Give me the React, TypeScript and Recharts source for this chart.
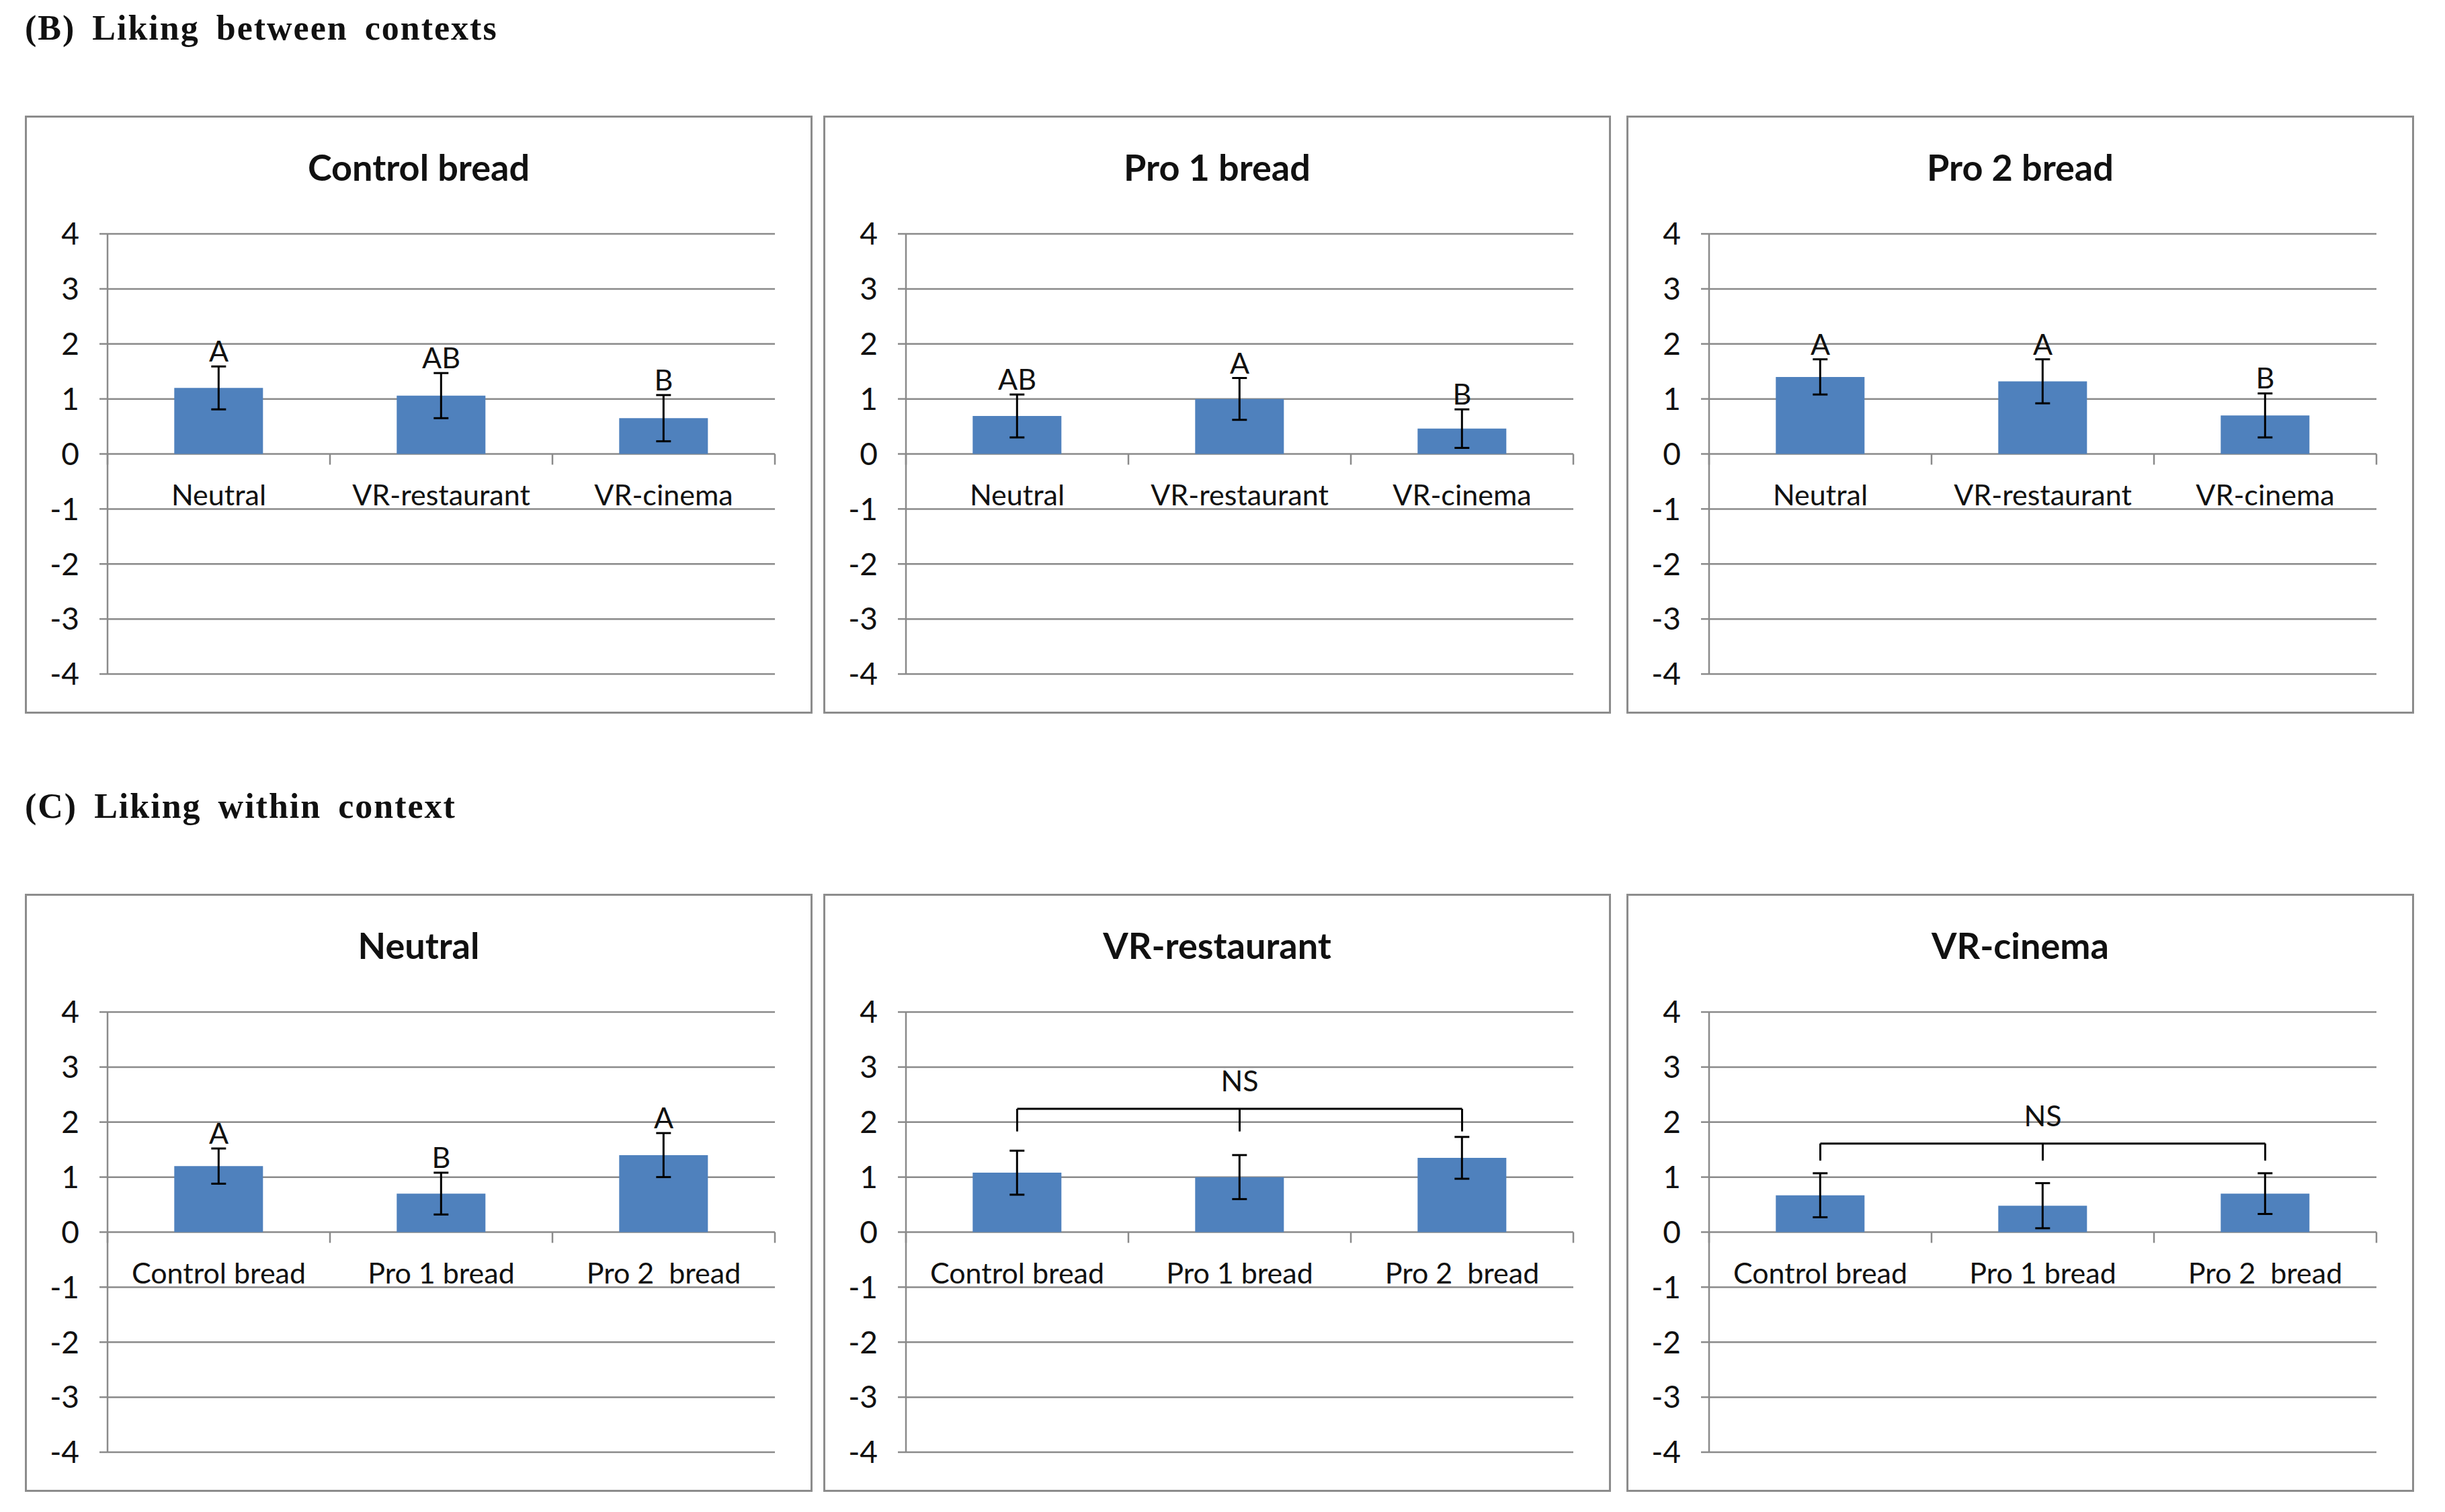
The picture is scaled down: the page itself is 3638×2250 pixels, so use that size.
import {
  ComposedChart,
  Bar,
  Line,
  ErrorBar,
  XAxis,
  YAxis,
  CartesianGrid,
  LabelList,
  ReferenceLine,
  ReferenceDot,
} from "recharts"

// categories
const CONTEXTS = ["Neutral", "VR-restaurant", "VR-cinema"]
const BREADS = ["Control bread", "Pro 1 bread", "Pro 2  bread"]
const Y_TICKS = [-4, -3, -2, -1, 0, 1, 2, 3, 4]

// (B) liking between contexts, per bread
const CONTROL_MEAN = [1.2, 1.06, 0.65]
const CONTROL_ERR = [0.39, 0.41, 0.42]
const CONTROL_LETTERS = ["A", "AB", "B"]

const PRO1_MEAN = [0.69, 1.0, 0.46]
const PRO1_ERR = [0.39, 0.38, 0.35]
const PRO1_LETTERS = ["AB", "A", "B"]

const PRO2_MEAN = [1.4, 1.32, 0.7]
const PRO2_ERR = [0.32, 0.4, 0.4]
const PRO2_LETTERS = ["A", "A", "B"]

// (C) liking within context, per context
const NEUTRAL_MEAN = [1.2, 0.7, 1.4]
const NEUTRAL_ERR = [0.32, 0.38, 0.4]
const NEUTRAL_LETTERS = ["A", "B", "A"]

const RESTAURANT_MEAN = [1.08, 1.0, 1.35]
const RESTAURANT_ERR = [0.4, 0.4, 0.38]

const CINEMA_MEAN = [0.67, 0.48, 0.7]
const CINEMA_ERR = [0.4, 0.41, 0.37]

// NS brackets: [bar y, leg end y, label y]
const RESTAURANT_BRACKET = [2.24, 1.83, 2.74]
const CINEMA_BRACKET = [1.61, 1.3, 2.11]

const BAR_COLOR = "#4f81bd"
const GRID = "#8a8a8a"
const FONT = "Lato, 'Open Sans', sans-serif"

const PANEL_W = 1172
const PANEL_H = 890
const BORDER = 3
const CHART_W = PANEL_W - 2 * BORDER
const CHART_H = PANEL_H - 2 * BORDER
const M_TOP = 173
const M_RIGHT = 53
const Y_AXIS_W = 120
const X_AXIS_H = 1
const PLOT_H = 655
const M_BOTTOM = CHART_H - M_TOP - PLOT_H - X_AXIS_H
const PLOT_W = CHART_W - Y_AXIS_W - M_RIGHT
const Y_ZERO = M_TOP + PLOT_H / 2

const buildRows = (cats: string[], mean: number[], err: number[], letters?: string[]) =>
  cats.map((c, i) => ({
    name: c,
    mean: mean[i],
    err: err[i],
    top: mean[i] + err[i],
    letter: letters ? letters[i] : "",
  }))

function CategoryTick(props: any) {
  const { x, payload, index } = props
  const catW = PLOT_W / 3
  return (
    <g>
      <line x1={x - catW / 2} y1={Y_ZERO} x2={x - catW / 2} y2={Y_ZERO + 16} stroke={GRID} strokeWidth={2.5} />
      {index === 2 && (
        <line x1={x + catW / 2} y1={Y_ZERO} x2={x + catW / 2} y2={Y_ZERO + 16} stroke={GRID} strokeWidth={2.5} />
      )}
      <text
        x={x}
        y={Y_ZERO + 76}
        textAnchor="middle"
        fill="#111"
        fontSize={43}
        style={{ whiteSpace: "pre" }}
      >
        {payload.value}
      </text>
    </g>
  )
}

function Panel({
  title,
  left,
  top,
  cats,
  mean,
  err,
  letters,
  bracket,
}: {
  title: string
  left: number
  top: number
  cats: string[]
  mean: number[]
  err: number[]
  letters?: string[]
  bracket?: number[]
}) {
  const data = buildRows(cats, mean, err, letters)
  return (
    <div
      style={{
        position: "absolute",
        left,
        top,
        width: PANEL_W,
        height: PANEL_H,
        boxSizing: "border-box",
        border: `${BORDER}px solid #8c8c8c`,
        background: "#fff",
      }}
    >
      <div
        style={{
          position: "absolute",
          left: 0,
          right: 0,
          top: 43,
          textAlign: "center",
          fontWeight: 700,
          fontSize: 54,
          lineHeight: "62px",
          color: "#111",
        }}
      >
        {title}
      </div>
      <ComposedChart
        width={CHART_W}
        height={CHART_H}
        data={data}
        margin={{ top: M_TOP, right: M_RIGHT, left: 0, bottom: M_BOTTOM }}
        barCategoryGap="30%"
      >
        <CartesianGrid vertical={false} stroke={GRID} strokeWidth={2.5} />
        <XAxis
          dataKey="name"
          height={X_AXIS_H}
          axisLine={false}
          tickLine={false}
          interval={0}
          tick={(p: any) => <CategoryTick {...p} />}
        />
        <YAxis
          type="number"
          domain={[-4, 4]}
          ticks={Y_TICKS}
          interval={0}
          width={Y_AXIS_W}
          tickSize={12}
          tickMargin={30}
          axisLine={{ stroke: GRID, strokeWidth: 2.5 }}
          tickLine={{ stroke: GRID, strokeWidth: 2.5 }}
          tick={{ fill: "#111", fontSize: 46 }}
          allowDataOverflow
        />
        <Bar dataKey="mean" fill={BAR_COLOR} isAnimationActive={false}>
          <ErrorBar dataKey="err" width={11} stroke="#000" strokeWidth={3} direction="y" />
        </Bar>
        <Line dataKey="top" stroke="none" dot={false} activeDot={false} legendType="none" isAnimationActive={false}>
          <LabelList dataKey="letter" position="top" offset={7} fill="#111" fontSize={43} />
        </Line>
        {bracket && (
          <ReferenceLine
            segment={[
              { x: cats[0], y: bracket[0] },
              { x: cats[2], y: bracket[0] },
            ]}
            stroke="#000"
            strokeWidth={3}
            ifOverflow="visible"
          />
        )}
        {bracket &&
          cats.map((c) => (
            <ReferenceLine
              key={c}
              segment={[
                { x: c, y: bracket[0] },
                { x: c, y: bracket[1] },
              ]}
              stroke="#000"
              strokeWidth={3}
              ifOverflow="visible"
            />
          ))}
        {bracket && (
          <ReferenceDot
            x={cats[1]}
            y={bracket[2]}
            r={0}
            stroke="none"
            fill="none"
            label={{ value: "NS", position: "center", fill: "#111", fontSize: 43 }}
          />
        )}
      </ComposedChart>
    </div>
  )
}

const sectionStyle = {
  position: "absolute" as const,
  left: 37,
  fontFamily: "'Liberation Serif', 'Times New Roman', serif",
  fontWeight: 700,
  fontSize: 52,
  lineHeight: "60px",
  letterSpacing: 2,
  wordSpacing: 10,
  color: "#111",
}

export default function App() {
  return (
    <div
      style={{
        position: "absolute",
        left: 0,
        top: 0,
        width: 3638,
        height: 2250,
        background: "#fff",
        fontFamily: FONT,
      }}
    >
      <div style={{ ...sectionStyle, top: 12 }}>(B) Liking between contexts</div>
      <Panel title="Control bread" left={37} top={172} cats={CONTEXTS} mean={CONTROL_MEAN} err={CONTROL_ERR} letters={CONTROL_LETTERS} />
      <Panel title="Pro 1 bread" left={1225} top={172} cats={CONTEXTS} mean={PRO1_MEAN} err={PRO1_ERR} letters={PRO1_LETTERS} />
      <Panel title="Pro 2 bread" left={2420} top={172} cats={CONTEXTS} mean={PRO2_MEAN} err={PRO2_ERR} letters={PRO2_LETTERS} />

      <div style={{ ...sectionStyle, top: 1170 }}>(C) Liking within context</div>
      <Panel title="Neutral" left={37} top={1330} cats={BREADS} mean={NEUTRAL_MEAN} err={NEUTRAL_ERR} letters={NEUTRAL_LETTERS} />
      <Panel title="VR-restaurant" left={1225} top={1330} cats={BREADS} mean={RESTAURANT_MEAN} err={RESTAURANT_ERR} bracket={RESTAURANT_BRACKET} />
      <Panel title="VR-cinema" left={2420} top={1330} cats={BREADS} mean={CINEMA_MEAN} err={CINEMA_ERR} bracket={CINEMA_BRACKET} />
    </div>
  )
}
